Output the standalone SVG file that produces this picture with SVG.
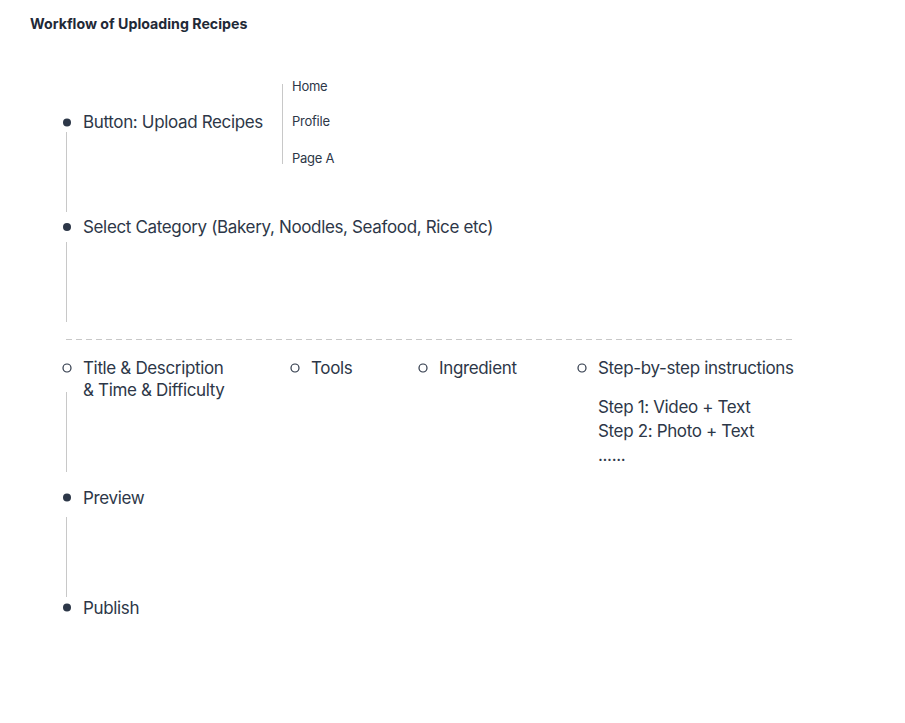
<svg xmlns="http://www.w3.org/2000/svg" width="905" height="723" viewBox="0 0 905 723">
<style>
text{font-family:Inter,"Noto Sans",sans-serif;fill:#2d3748}
.t{font-size:14.2px;font-weight:700;fill:#1f2937}
.m{font-size:17px;letter-spacing:-0.35px}
.s{font-size:13px;letter-spacing:-0.25px}
.ln{stroke:#c8c8c8;stroke-width:1;fill:none}
.dot{fill:#2d3748}
.ring{fill:none;stroke:#2d3748;stroke-width:1.2}
</style>
<rect width="905" height="723" fill="#fff"/>
<text class="t" x="30" y="29">Workflow of Uploading Recipes</text>
<g id="connectors">
<line class="ln" x1="66.5" y1="132" x2="66.5" y2="212"/>
<line class="ln" x1="66.5" y1="242" x2="66.5" y2="322"/>
<line class="ln" x1="66.5" y1="392" x2="66.5" y2="472"/>
<line class="ln" x1="66.5" y1="517" x2="66.5" y2="597"/>
<line class="ln" x1="282.5" y1="84" x2="282.5" y2="164"/>
<line class="ln" x1="66" y1="339.5" x2="794" y2="339.5" stroke-dasharray="6,4"/>
</g>
<g id="upload">
<circle class="dot" cx="67" cy="122.5" r="4"/>
<text class="m" x="83" y="128">Button: Upload Recipes</text>
</g>
<g id="nav">
<text class="s" x="292" y="91">Home</text>
<text class="s" x="292" y="126">Profile</text>
<text class="s" x="292" y="163">Page A</text>
</g>
<g id="category">
<circle class="dot" cx="67" cy="227" r="4"/>
<text class="m" x="83" y="233">Select Category (Bakery, Noodles, Seafood, Rice etc)</text>
</g>
<g id="title">
<circle class="ring" cx="67" cy="368" r="4"/>
<text class="m" x="83" y="374">Title &amp; Description</text>
<text class="m" x="83" y="396">&amp; Time &amp; Difficulty</text>
</g>
<g id="tools">
<circle class="ring" cx="295" cy="368" r="4"/>
<text class="m" x="311" y="374">Tools</text>
</g>
<g id="ingredient">
<circle class="ring" cx="423" cy="368" r="4"/>
<text class="m" x="439" y="374">Ingredient</text>
</g>
<g id="steps">
<circle class="ring" cx="582" cy="368" r="4"/>
<text class="m" x="598" y="374">Step-by-step instructions</text>
<text class="m" x="598" y="413">Step 1: Video + Text</text>
<text class="m" x="598" y="437">Step 2: Photo + Text</text>
<text class="m" x="598" y="461">......</text>
</g>
<g id="preview">
<circle class="dot" cx="67" cy="497.5" r="4"/>
<text class="m" x="83" y="504">Preview</text>
</g>
<g id="publish">
<circle class="dot" cx="67" cy="607.5" r="4"/>
<text class="m" x="83" y="614">Publish</text>
</g>
</svg>
